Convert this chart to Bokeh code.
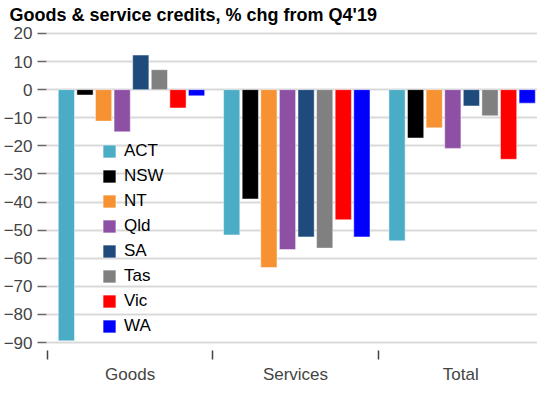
import numpy as np
from bokeh.plotting import figure
from bokeh.models import Range1d, FixedTicker, Legend, LegendItem, LinearAxis
from bokeh.embed import file_html
from bokeh.resources import INLINE

# ---- data ----
categories = ["Goods", "Services", "Total"]
states = ["ACT", "NSW", "NT", "Qld", "SA", "Tas", "Vic", "WA"]
colors = ["#4BACC6", "#000000", "#F79232", "#8E50A5", "#1F4A7C", "#808080", "#FF0000", "#0000FF"]
act = [-89.4, -51.7, -53.8]
nsw = [-1.9, -38.9, -17.2]
nt = [-11.2, -63.3, -13.6]
qld = [-15.0, -56.9, -20.9]
sa = [12.3, -52.4, -5.8]
tas = [7.1, -56.4, -9.3]
vic = [-6.5, -46.3, -24.8]
wa = [-2.2, -52.4, -4.8]
series = [act, nsw, nt, qld, sa, tas, vic, wa]
y_ticks = [20, 10, 0, -10, -20, -30, -40, -50, -60, -70, -80, -90]

FONT = "Liberation Sans"

p = figure(width=537, height=386, output_backend="svg", toolbar_location=None,
           x_range=Range1d(-0.506, 2.464), y_range=Range1d(-90.7, 22.12),
           min_border_left=44, min_border_right=0, min_border_bottom=40, min_border_top=27,
           x_axis_type=None, y_axis_location="left")
p.outline_line_color = None
p.background_fill_color = "white"

# title
p.title.text = "Goods & service credits, % chg from Q4'19"
p.title.text_font = FONT
p.title.text_font_size = "18px"
p.title.text_font_style = "bold"
p.title.text_color = "#000000"
p.title.align = "left"
p.title.offset = -37
p.title.standoff = 5

# bars
idx = np.arange(len(categories))
pitch = 0.1125
bw = 0.098
items = []
for i, (name, vals, col) in enumerate(zip(states, series, colors)):
    xs = idx + (i - 3.5) * pitch + 0.008
    r = p.vbar(x=xs, top=vals, bottom=0, width=bw, fill_color=col,
               line_color="white", line_alpha=0.45, line_width=1)
    items.append(LegendItem(label=name, renderers=[r]))

# y axis
yax = p.yaxis[0]
yax.ticker = FixedTicker(ticks=y_ticks)
yax.axis_line_color = None
yax.major_tick_in = 0
yax.major_tick_out = 9
yax.major_tick_line_color = "#666666"
yax.major_tick_line_width = 1.5
yax.minor_tick_line_color = None
yax.major_label_text_font = FONT
yax.major_label_text_font_size = "17px"
yax.major_label_text_color = "#444444"
yax.major_label_standoff = 5

# x axis: labels at category centres, tick marks at boundaries
xax = LinearAxis(ticker=FixedTicker(ticks=list(idx), minor_ticks=list(idx - 0.5)),
                 major_label_overrides={int(k): c for k, c in zip(idx, categories)})
xax.axis_line_color = None
xax.major_tick_line_color = None
xax.major_tick_in = 0
xax.major_tick_out = 15
xax.minor_tick_in = -6
xax.minor_tick_out = 15
xax.minor_tick_line_color = "#444444"
xax.minor_tick_line_width = 1.5
xax.major_label_text_font = FONT
xax.major_label_text_font_size = "17px"
xax.major_label_text_color = "#444444"
xax.major_label_standoff = 5
xax.axis_label_standoff = 0
p.add_layout(xax, "below")

# grid
p.xgrid.visible = False
p.ygrid.ticker = FixedTicker(ticks=y_ticks)
p.ygrid.grid_line_color = "#d9d9d9"
p.ygrid.grid_line_width = 2

# legend
legend = Legend(items=items, location=(55, 8), orientation="vertical",
                background_fill_alpha=0, border_line_color=None,
                padding=0, margin=0, spacing=5,
                glyph_width=16, glyph_height=16, label_height=20,
                label_standoff=7, label_text_font=FONT,
                label_text_font_size="17px", label_text_color="#000000")
p.add_layout(legend, "center")

open("out.html", "w").write(file_html(p, INLINE))
